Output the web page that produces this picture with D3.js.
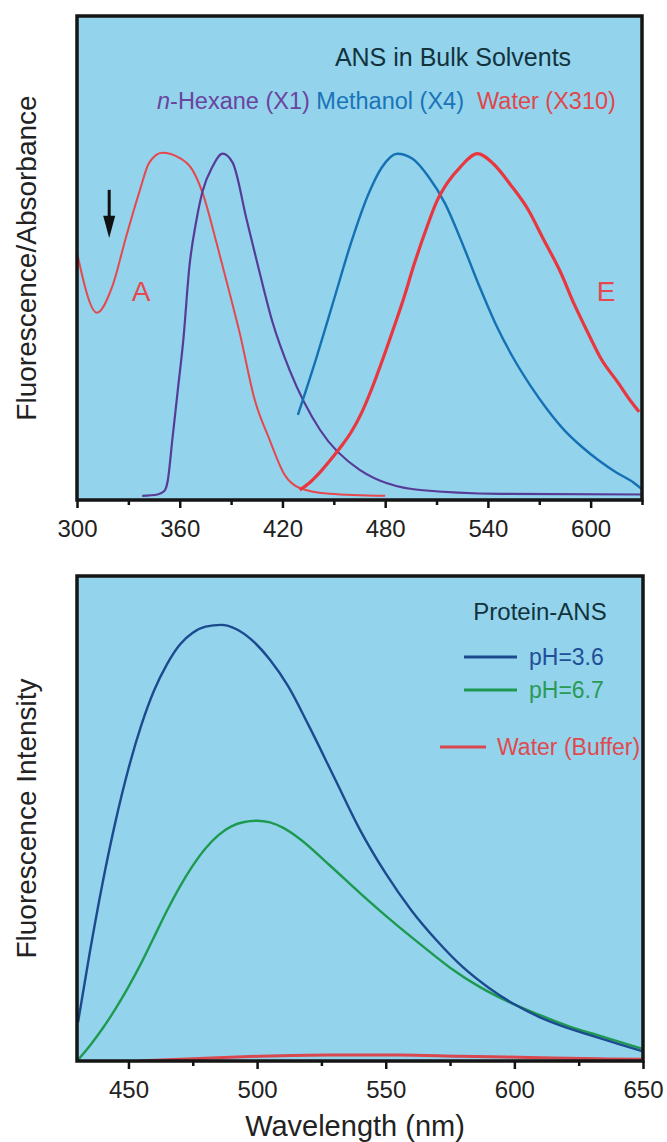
<!DOCTYPE html>
<html>
<head>
<meta charset="utf-8">
<script src="https://cdn.jsdelivr.net/npm/d3@7"></script>
<style>
	body { margin: 0; background: #fff; }
	text { font-family: "Liberation Sans", Arial, sans-serif; }
</style>
</head>
<body>
<svg id="chart"></svg>
<script>
// ---- top panel: ANS in bulk solvents (wavelength nm, normalised signal) ----
var absNm = [300, 311.7, 320.5, 328.7, 336.3, 342.2, 349.8, 359.8, 367.4, 373.3, 381.5, 389.1, 395, 403.8, 412.5, 421.3, 430.1, 447.7, 480]
var absVal = [0.712, 0.538, 0.613, 0.759, 0.887, 0.974, 1.003, 0.988, 0.953, 0.887, 0.741, 0.596, 0.48, 0.285, 0.169, 0.067, 0.029, 0.012, 0.006]

var hexNm = [338.1, 347, 351, 353, 355.7, 359, 362.1, 365.6, 369.8, 373.3, 379.1, 385, 390.9, 399.1, 406.7, 414.3, 424.3, 441.9, 465.3, 500.5, 547.4, 630]
var hexVal = [0.006, 0.01, 0.02, 0.05, 0.17, 0.319, 0.459, 0.67, 0.808, 0.89, 0.962, 1.0, 0.974, 0.808, 0.654, 0.509, 0.37, 0.198, 0.081, 0.023, 0.012, 0.01]

var methNm = [429, 440, 450, 460, 470, 478, 487, 496, 505, 515, 525, 535, 545, 555, 565, 575, 585, 595, 605, 615, 625, 630]
var methVal = [0.241, 0.41, 0.575, 0.74, 0.88, 0.96, 1.0, 0.985, 0.935, 0.855, 0.74, 0.615, 0.5, 0.405, 0.325, 0.255, 0.195, 0.148, 0.108, 0.074, 0.045, 0.025]

var waterNm = [430.1, 436, 442, 448, 454, 460, 466, 472, 478, 484, 490.5, 497, 504.6, 510, 516.3, 524, 533.9, 543.3, 553.2, 563.2, 572.6, 582.5, 590.2, 598.4, 606, 616, 623.6, 628.3]
var waterVal = [0.023, 0.045, 0.075, 0.11, 0.148, 0.19, 0.245, 0.315, 0.395, 0.48, 0.575, 0.68, 0.79, 0.86, 0.915, 0.962, 1.0, 0.97, 0.91, 0.84, 0.75, 0.655, 0.565, 0.48, 0.405, 0.335, 0.28, 0.25]

var topTicks = [300, 360, 420, 480, 540, 600]
var topMinor = [330, 390, 450, 510, 570, 630]

// ---- bottom panel: protein-ANS fluorescence ----
var ph36Nm = [430.4, 435, 440, 445, 450, 455, 460, 465, 470, 475, 480, 486, 492, 498, 505, 512, 520, 530, 540, 550, 560, 570, 580, 590, 600, 610, 620, 630, 640, 650]
var ph36Val = [0.089, 0.25, 0.41, 0.55, 0.67, 0.77, 0.85, 0.91, 0.955, 0.982, 0.996, 1.0, 0.99, 0.965, 0.92, 0.86, 0.77, 0.65, 0.53, 0.43, 0.345, 0.275, 0.215, 0.168, 0.13, 0.1, 0.077, 0.058, 0.04, 0.022]

var ph67Nm = [430, 435, 440, 445, 450, 455, 460, 465, 470, 475, 480, 485, 490, 495, 500, 505, 510, 516, 528, 540, 552, 564, 575, 586.5, 598, 610, 621.5, 633, 649.8]
var ph67Val = [0.0, 0.035, 0.075, 0.12, 0.17, 0.225, 0.285, 0.345, 0.4, 0.448, 0.488, 0.518, 0.538, 0.548, 0.551, 0.547, 0.535, 0.512, 0.45, 0.385, 0.323, 0.265, 0.214, 0.17, 0.135, 0.105, 0.079, 0.058, 0.028]

var bufNm = [454.5, 477.8, 501, 528.3, 555.4, 578.7, 605.9, 633.1, 649.8]
var bufVal = [0.0, 0.006, 0.011, 0.014, 0.014, 0.011, 0.008, 0.005, 0.004]

var botTicks = [450, 500, 550, 600, 650]
var botMinor = [475, 525, 575, 625]

var bg = '#93d3ec'

var svg = d3.select('#chart')
	.attr('width', 667)
	.attr('height', 1142)

function zip(xs, ys) {
	return xs.map((d, i) => [d, ys[i]])
}

function panel(opt) {
	var g = svg.append('g')
	var x = d3.scaleLinear().domain(opt.xDomain).range([opt.left, opt.right])
	var y = d3.scaleLinear().domain(opt.yDomain).range([opt.bottom, opt.top])

	g.append('rect')
		.attr('x', opt.left)
		.attr('y', opt.top)
		.attr('width', opt.right - opt.left)
		.attr('height', opt.bottom - opt.top)
		.attr('fill', bg)

	var clipId = 'clip' + opt.id
	g.append('clipPath').attr('id', clipId)
		.append('rect')
		.attr('x', opt.left)
		.attr('y', opt.top)
		.attr('width', opt.right - opt.left)
		.attr('height', opt.bottom - opt.top)

	var line = d3.line()
		.x(d => x(d[0]))
		.y(d => y(d[1]))
		.curve(d3.curveMonotoneX)

	var curves = g.append('g').attr('clip-path', 'url(#' + clipId + ')')
	opt.series.forEach(s => {
		curves.append('path')
			.datum(zip(s.nm, s.val))
			.attr('d', line)
			.attr('fill', 'none')
			.attr('stroke', s.color)
			.attr('stroke-width', s.width)
			.attr('stroke-linejoin', 'round')
	})

	// minor then major ticks, pointing down
	g.append('g')
		.attr('transform', 'translate(0,' + opt.bottom + ')')
		.call(d3.axisBottom(x).tickValues(opt.minor).tickSize(5).tickFormat(''))
		.call(a => a.select('.domain').remove())
		.call(a => a.selectAll('line').attr('stroke', '#111').attr('stroke-width', 2.5))

	g.append('g')
		.attr('transform', 'translate(0,' + opt.bottom + ')')
		.call(d3.axisBottom(x).tickValues(opt.ticks).tickSize(8).tickPadding(12))
		.call(a => a.select('.domain').remove())
		.call(a => a.selectAll('line').attr('stroke', '#111').attr('stroke-width', 2.5))
		.call(a => a.selectAll('text')
			.attr('font-size', 24)
			.attr('fill', '#222')
			.attr('font-family', '"Liberation Sans", Arial, sans-serif'))

	g.append('rect')
		.attr('x', opt.left)
		.attr('y', opt.top)
		.attr('width', opt.right - opt.left)
		.attr('height', opt.bottom - opt.top)
		.attr('fill', 'none')
		.attr('stroke', '#151515')
		.attr('stroke-width', 3.5)

	g.append('text')
		.attr('transform', 'translate(' + opt.yLabelX + ',' + ((opt.top + opt.bottom) / 2) + ') rotate(-90)')
		.attr('text-anchor', 'middle')
		.attr('font-size', 28)
		.attr('fill', '#222')
		.text(opt.yLabel)

	return { g: g, x: x, y: y }
}

// top panel
var topP = panel({
	id: 'top', left: 77, right: 642, top: 16, bottom: 500,
	xDomain: [300, 630], yDomain: [-0.006, 1.4],
	ticks: topTicks, minor: topMinor,
	yLabel: 'Fluorescence/Absorbance', yLabelX: 36,
	series: [
		{ nm: absNm, val: absVal, color: '#e5484e', width: 2 },
		{ nm: hexNm, val: hexVal, color: '#563c96', width: 2.2 },
		{ nm: methNm, val: methVal, color: '#1670b4', width: 2.4 },
		{ nm: waterNm, val: waterVal, color: '#e8373f', width: 3.2 }
	]
})

topP.g.append('text')
	.attr('x', 453).attr('y', 66)
	.attr('text-anchor', 'middle')
	.attr('font-size', 25)
	.attr('fill', '#12333d')
	.text('ANS in Bulk Solvents')

var leg = topP.g.append('text')
	.attr('x', 157).attr('y', 109)
	.attr('font-size', 23.5)
leg.append('tspan').attr('fill', '#6a449e').attr('font-style', 'italic').text('n')
leg.append('tspan').attr('fill', '#6a449e').text('-Hexane (X1) ')
leg.append('tspan').attr('fill', '#1a74b8').text('Methanol (X4)\u00a0 ')
leg.append('tspan').attr('fill', '#e0474c').text('Water (X310)')

topP.g.append('text')
	.attr('x', topP.x(337.5)).attr('y', topP.y(0.6) + 10)
	.attr('text-anchor', 'middle')
	.attr('font-size', 28)
	.attr('fill', '#e5484e')
	.text('A')

topP.g.append('text')
	.attr('x', topP.x(609)).attr('y', topP.y(0.6) + 10)
	.attr('text-anchor', 'middle')
	.attr('font-size', 28)
	.attr('fill', '#e5484e')
	.text('E')

// arrow marking excitation
var ax = topP.x(318.8)
topP.g.append('line')
	.attr('x1', ax).attr('x2', ax)
	.attr('y1', topP.y(0.895)).attr('y2', topP.y(0.8))
	.attr('stroke', '#111').attr('stroke-width', 3)
topP.g.append('path')
	.attr('d', 'M' + (ax - 6) + ',' + topP.y(0.82) + 'L' + (ax + 6) + ',' + topP.y(0.82) + 'L' + ax + ',' + topP.y(0.755) + 'Z')
	.attr('fill', '#111')

// bottom panel
var botP = panel({
	id: 'bot', left: 77, right: 643, top: 576, bottom: 1061,
	xDomain: [430, 650], yDomain: [0, 1.112],
	ticks: botTicks, minor: botMinor,
	yLabel: 'Fluorescence Intensity', yLabelX: 36,
	series: [
		{ nm: bufNm, val: bufVal, color: '#d9474f', width: 3 },
		{ nm: ph67Nm, val: ph67Val, color: '#1e9a50', width: 2.4 },
		{ nm: ph36Nm, val: ph36Val, color: '#1c4a8f', width: 2.4 }
	]
})

botP.g.append('text')
	.attr('x', 540).attr('y', 620)
	.attr('text-anchor', 'middle')
	.attr('font-size', 24)
	.attr('fill', '#12333d')
	.text('Protein-ANS')

var legItems = [
	{ label: 'pH=3.6', color: '#1c4a8f', text: '#1f4f96', y: 657, x1: 464, x2: 517, tx: 529 },
	{ label: 'pH=6.7', color: '#1e9a50', text: '#2a9a55', y: 690, x1: 464, x2: 517, tx: 529 },
	{ label: 'Water (Buffer)', color: '#d9474f', text: '#e04a4f', y: 747, x1: 440, x2: 486, tx: 497 }
]
legItems.forEach(d => {
	botP.g.append('line')
		.attr('x1', d.x1).attr('x2', d.x2)
		.attr('y1', d.y).attr('y2', d.y)
		.attr('stroke', d.color).attr('stroke-width', 3)
	botP.g.append('text')
		.attr('x', d.tx).attr('y', d.y + 8)
		.attr('font-size', 23)
		.attr('fill', d.text)
		.text(d.label)
})

svg.append('text')
	.attr('x', 355).attr('y', 1136)
	.attr('text-anchor', 'middle')
	.attr('font-size', 29)
	.attr('fill', '#222')
	.text('Wavelength (nm)')
</script>
</body>
</html>
